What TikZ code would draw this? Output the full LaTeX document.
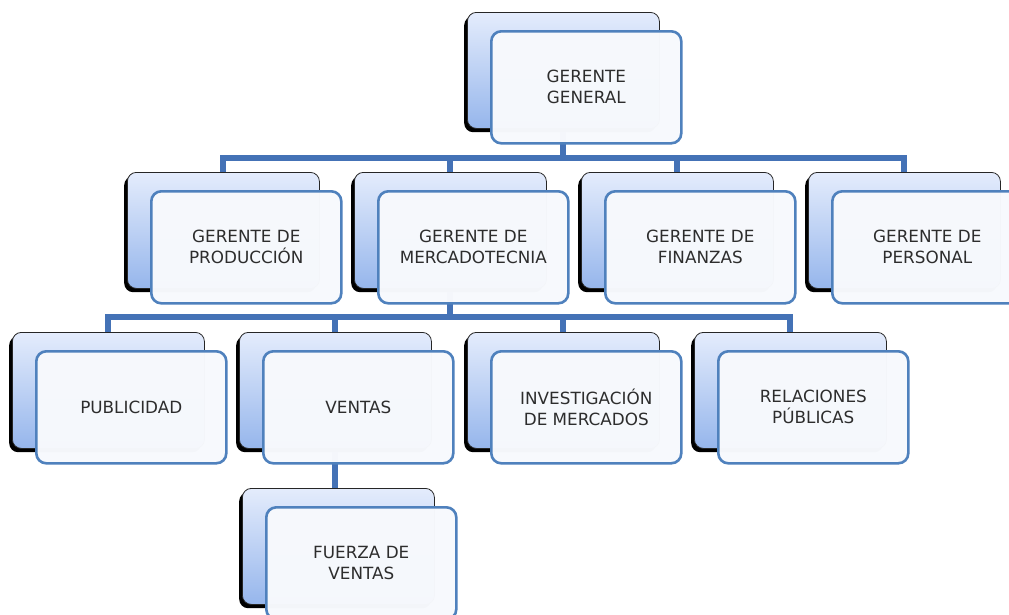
\documentclass[tikz,border=0pt]{standalone}
\usepackage{fontspec}
\setmainfont{DejaVu Sans}
\usetikzlibrary{calc}
\pgfdeclarelayer{bg}
\pgfdeclarelayer{paper}
\pgfsetlayers{paper,bg,main}
\definecolor{connblue}{RGB}{68,114,182}
\definecolor{frontblue}{RGB}{79,129,189}
\definecolor{backtop}{RGB}{228,236,252}
\definecolor{backbot}{RGB}{150,182,236}
\definecolor{frontfill}{RGB}{247,249,253}
\definecolor{txt}{RGB}{45,45,45}
\tikzset{
 shadowbox/.style={minimum width=192pt, minimum height=116pt, rounded corners=9pt, fill=black, inner sep=0pt, anchor=north west},
 backbox/.style={minimum width=192pt, minimum height=116pt, rounded corners=9pt, draw=black!85, line width=0.8pt, top color=backtop, bottom color=backbot, inner sep=0pt, anchor=north west},
 frontbox/.style={minimum width=190pt, minimum height=112pt, rounded corners=10pt, draw=frontblue, line width=2.6pt, fill=frontfill, fill opacity=0.985, text opacity=1, text=txt, font=\fontsize{16.8}{21}\selectfont, align=center, inner sep=0pt, anchor=north west},
 conn/.style={draw=connblue, line width=6pt}
}
\newcommand\orgbox[4]{%
 \node[shadowbox] (#1-s) at (#2-26,#3-14) {};
 \node[backbox] (#1-b) at (#2-23,#3-18) {};
 \node[frontbox] (#1) at (#2,#3) {#4};
}
\begin{document}
\begin{tikzpicture}[x=1pt,y=-1pt]
\useasboundingbox (0,0) rectangle (1009,614);
\clip (0,0) rectangle (1009,614);
\begin{pgfonlayer}{paper}
\fill[white] (0,0) rectangle (1009,614);
\end{pgfonlayer}
\coordinate (bar1) at (0,158);
\coordinate (bar2) at (0,317);
% level 1
\orgbox{gg}{490}{30}{GERENTE\\GENERAL}
% level 2
\orgbox{prod}{150}{190}{GERENTE DE\\PRODUCCIÓN}
\orgbox{merc}{377}{190}{GERENTE DE\\MERCADOTECNIA}
\orgbox{fin}{604}{190}{GERENTE DE\\FINANZAS}
\orgbox{pers}{831}{190}{GERENTE DE\\PERSONAL}
% level 3
\orgbox{pub}{35}{350}{PUBLICIDAD}
\orgbox{ven}{262}{350}{VENTAS}
\orgbox{inv}{490}{350}{INVESTIGACIÓN\\DE MERCADOS}
\orgbox{rel}{717}{350}{RELACIONES\\PÚBLICAS}
% level 4
\orgbox{fv}{265}{506}{FUERZA DE\\VENTAS}
\begin{pgfonlayer}{bg}
 \foreach \c in {prod,merc,fin,pers}
  \draw[conn] (gg-b.south) -- (gg-b.south |- bar1) -| (\c-b.north);
 \foreach \c in {pub,ven,inv,rel}
  \draw[conn] (merc-b.south) -- (merc-b.south |- bar2) -| (\c-b.north);
 \draw[conn] (ven-b.south) -- (ven-b.south |- fv-b.north);
\end{pgfonlayer}
\end{tikzpicture}
\end{document}
